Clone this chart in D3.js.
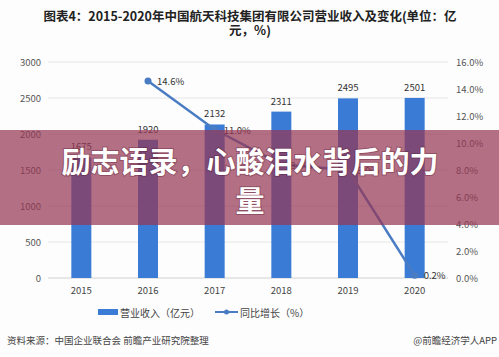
<!DOCTYPE html>
<html><head><meta charset="utf-8">
<script src="https://cdn.jsdelivr.net/npm/d3@7"></script>
<style>body{margin:0;background:#fff}svg{display:block}</style>
</head><body>
<script>
const years = ["2015","2016","2017","2018","2019","2020"];
const revenue = [1675, 1920, 2132, 2311, 2495, 2501];
const growthYears = ["2016","2017","2018","2019","2020"];
const growth = [14.6, 11.0, 8.4, 8.0, 0.2];
const leftTicks = [0,500,1000,1500,2000,2500,3000];
const rightTicks = [0,2,4,6,8,10,12,14,16];

const W=499,H=357;
const font='"Noto Sans CJK SC","Noto Sans",sans-serif';
const svg=d3.select("body").append("svg").attr("width",W).attr("height",H).style("font-family",font);
svg.append("rect").attr("width",W).attr("height",H).attr("fill","#fdfdfd");

// title
const t=svg.append("text").attr("text-anchor","middle").attr("font-size",12.5).attr("font-weight","bold").attr("fill","#222");
t.append("tspan").attr("x",250).attr("y",21).text("图表4：2015-2020年中国航天科技集团有限公司营业收入及变化(单位：亿");
t.append("tspan").attr("x",250).attr("y",35).text("元，%)");

const x=d3.scaleBand().domain(years).range([48,448]);
const yL=d3.scaleLinear().domain([0,3000]).range([278,62]);
const yR=d3.scaleLinear().domain([0,16]).range([278,62]);

// grid
svg.append("g").selectAll("line").data(leftTicks).join("line")
 .attr("x1",48).attr("x2",448).attr("y1",d=>yL(d)).attr("y2",d=>yL(d))
 .attr("stroke",d=>d===0?"#d0d0d0":"#e6e6e6").attr("stroke-width",1);

// left axis
const gL=svg.append("g").attr("transform","translate(44,0)").call(d3.axisLeft(yL).tickValues(leftTicks).tickSize(0).tickPadding(3).tickFormat(d=>String(d)));
gL.select(".domain").remove();
gL.selectAll("text").attr("font-size",9.5).attr("fill","#555").attr("font-family",font);
// right axis
const gR=svg.append("g").attr("transform","translate(452,0)").call(d3.axisRight(yR).tickValues(rightTicks).tickSize(0).tickPadding(4).tickFormat(d=>d.toFixed(1)+"%"));
gR.select(".domain").remove();
gR.selectAll("text").attr("font-size",9.5).attr("fill","#555").attr("font-family",font);
// x axis
const gX=svg.append("g").attr("transform","translate(0,279)").call(d3.axisBottom(x).tickSize(0).tickPadding(8));
gX.select(".domain").remove();
gX.selectAll("text").attr("font-size",9.5).attr("fill","#444").attr("font-family",font);

// bars
const bw=20;
svg.append("g").selectAll("rect").data(revenue).join("rect")
 .attr("x",(d,i)=>x(years[i])+x.bandwidth()/2-bw/2).attr("width",bw)
 .attr("y",d=>yL(d)).attr("height",d=>yL(0)-yL(d)).attr("fill","#3a7bd5");
svg.append("g").selectAll("text").data(revenue).join("text")
 .attr("x",(d,i)=>x(years[i])+x.bandwidth()/2).attr("y",d=>yL(d)-7)
 .attr("text-anchor","middle").attr("font-size",9.5).attr("fill","#333").text(d=>d);

// line
const cx=y=>x(y)+x.bandwidth()/2;
const pts=growth.map((g,i)=>[cx(growthYears[i]),yR(g)]);
svg.append("path").attr("d",d3.line()(pts)).attr("fill","none").attr("stroke","#4a7cc4").attr("stroke-width",2.5);
svg.append("g").selectAll("circle").data(pts).join("circle").attr("cx",d=>d[0]).attr("cy",d=>d[1]).attr("r",3.5).attr("fill","#4a7cc4");
svg.append("g").selectAll("text").data(growth).join("text")
 .attr("x",(d,i)=>cx(growthYears[i])+9).attr("y",d=>yR(d)+4)
 .attr("font-size",9.5).attr("fill","#333").text(d=>d.toFixed(1)+"%");

// legend
svg.append("rect").attr("x",98).attr("y",309).attr("width",20).attr("height",6).attr("fill","#3a7bd5");
svg.append("text").attr("x",120).attr("y",317).attr("font-size",10).attr("fill","#444").text("营业收入（亿元）");
svg.append("line").attr("x1",215).attr("x2",238).attr("y1",312).attr("y2",312).attr("stroke","#4a7cc4").attr("stroke-width",2);
svg.append("circle").attr("cx",226.5).attr("cy",312).attr("r",2.5).attr("fill","#4a7cc4");
svg.append("text").attr("x",240).attr("y",317).attr("font-size",10).attr("fill","#444").text("同比增长（%）");

// footer
svg.append("text").attr("x",7).attr("y",344).attr("font-size",9.5).attr("fill","#444").text("资料来源：中国企业联合会 前瞻产业研究院整理");
svg.append("text").attr("x",497).attr("y",344).attr("text-anchor","end").attr("font-size",9.5).attr("fill","#444").text("@前瞻经济学人APP");

// banner overlay
svg.append("rect").attr("x",0).attr("y",130).attr("width",W).attr("height",95).attr("fill","rgb(150,55,85)").attr("opacity",0.72);
const b=svg.append("text").attr("text-anchor","middle").attr("font-size",29).attr("font-weight","bold").attr("fill","#fff")
 .style("paint-order","stroke").attr("stroke","rgba(80,20,40,0.35)").attr("stroke-width",2);
b.append("tspan").attr("x",250).attr("y",173).text("励志语录，心酸泪水背后的力");
b.append("tspan").attr("x",250).attr("y",212).text("量");
</script>
</body></html>
